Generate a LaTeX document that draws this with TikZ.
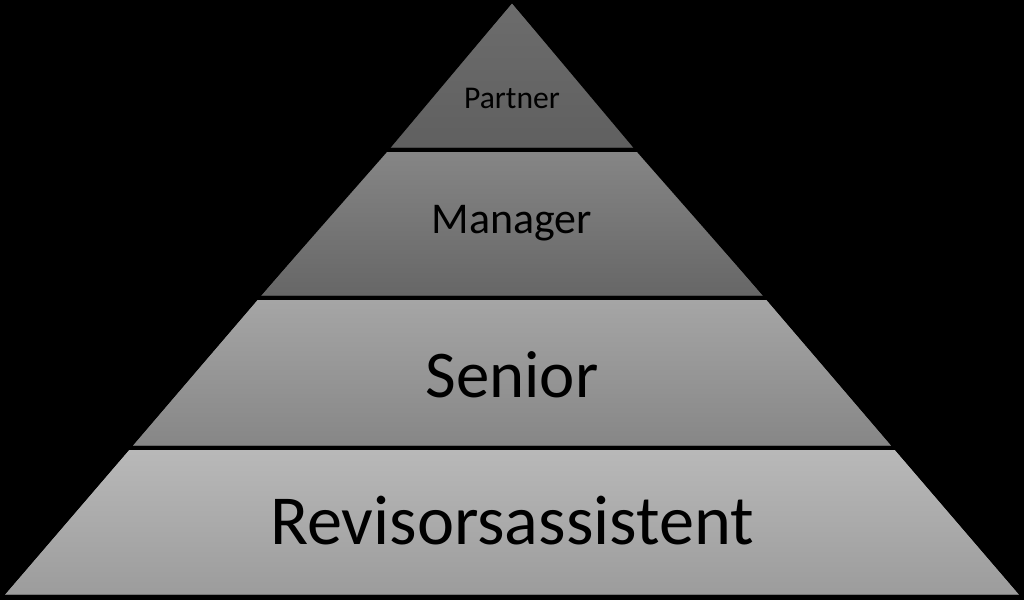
\documentclass[tikz,border=0pt]{standalone}
\usepackage{fontspec}
\setmainfont{Carlito}
\usetikzlibrary{calc}
\begin{document}
\begin{tikzpicture}
        \fill[black] (0,0) rectangle (10.24,6);
        \useasboundingbox (0,0) rectangle (10.24,6);
        \tikzset{band/.style={draw=black, line width=0.4mm}}
        \coordinate (apex) at (5.12, 6);
        \coordinate (l1) at (3.86, 4.5);
        \coordinate (r1) at (6.38, 4.5);
        \coordinate (l2) at (2.56, 3.02);
        \coordinate (r2) at (7.68, 3.02);
        \coordinate (l3) at (1.28, 1.52);
        \coordinate (r3) at (8.96, 1.52);
        \coordinate (l4) at (0, 0.03);
        \coordinate (r4) at (10.24, 0.03);
        % bands
        \shade[band, top color=gray!85!black, bottom color=gray!75!black] (apex) -- (r1) -- (l1) -- cycle;
        \shade[band, top color=gray!95, bottom color=gray!80!black] (l1) -- (r1) -- (r2) -- (l2) -- cycle;
        \shade[band, top color=gray!70, bottom color=gray!95] (l2) -- (r2) -- (r3) -- (l3) -- cycle;
        \shade[band, top color=gray!55, bottom color=gray!78] (l3) -- (r3) -- (r4) -- (l4) -- cycle;
        \draw[band] (apex) -- (r4) -- (l4) -- cycle;
        % labels
        \node (partner) at (5.12, 5.02) {\fontsize{9}{11}\selectfont Partner};
        \node (manager) at (5.12, 3.77) {\fontsize{12.5}{15}\selectfont Manager};
        \node (senior) at (5.12, 2.25) {\fontsize{19}{23}\selectfont Senior};
        \node (assistent) at (5.12, 0.79) {\fontsize{20}{24}\selectfont Revisorsassistent};
\end{tikzpicture}
\end{document}
